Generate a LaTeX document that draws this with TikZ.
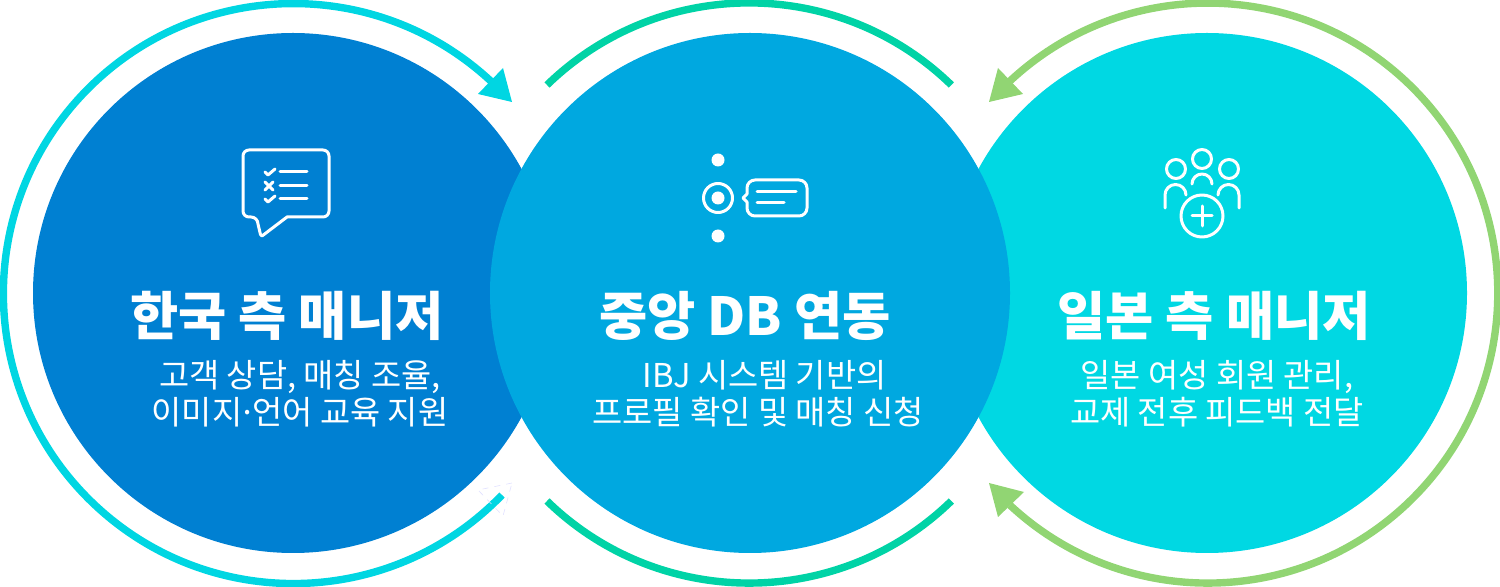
\documentclass[tikz,border=0pt]{standalone}
\usepackage{fontspec}
\setmainfont{Noto Sans CJK KR}
\usetikzlibrary{positioning}
\definecolor{discA}{HTML}{0080D2}
\definecolor{discB}{HTML}{00A8E0}
\definecolor{discC}{HTML}{00D8E3}
\definecolor{ringA}{HTML}{00D6E2}
\definecolor{ringB}{HTML}{00D3A6}
\definecolor{ringC}{HTML}{91D573}
\tikzset{
  bigdisc/.style={circle, minimum size=260pt, inner sep=0pt},
  ringline/.style={line width=3.7pt},
  icon/.style={draw=white, line width=1.5pt, line cap=round, line join=round},
  headtext/.style={text=white, font=\fontsize{26.2}{30}\selectfont\bfseries, inner sep=0pt},
  bodytext/.style={text=white, font=\fontsize{16.4}{18.5}\selectfont, align=center, inner sep=0pt},
}
\begin{document}
\begin{tikzpicture}[x=0.5pt, y=-0.5pt]
	\useasboundingbox (0,0) rectangle (1500,587);
	\node[bigdisc, fill=discA] (c1) at (293,293) {};
	\node[bigdisc, fill=discC] (c3) at (1207,293) {};
	\node[bigdisc, fill=discB] (c2) at (750,293) {};
	% outer rings
	\coordinate (a1) at (502,495);
	\coordinate (a2) at (547,85);
	\coordinate (a3) at (547,501);
	\coordinate (a4) at (1010,81);
	\draw[ringline, ringA] (a1) arc[start angle=44, end angle=313, radius=290];
	\draw[ringline, ringB] (a2) arc[start angle=225.8, end angle=314.2, radius=290];
	\draw[ringline, ringB] (a3) arc[start angle=134.2, end angle=45.8, radius=290];
	\draw[ringline, ringC] (a4) arc[start angle=227, end angle=493, radius=290];
	% arrow heads
	\fill[ringA] (512,102) -- (503,68) -- (478,94) -- cycle;
	\fill[ringC] (989,102) -- (998,68) -- (1023,94) -- cycle;
	\fill[ringC] (989,483) -- (1024,492) -- (998,517) -- cycle;
	\draw[draw=blue!12, line width=0.3pt, dashed] (512,483) -- (478,490) -- (503,516) -- cycle;
	% left icon
	\draw[icon] (249,150) -- (323,150) arc[start angle=-90, end angle=0, radius=6] -- (329,211)
		arc[start angle=0, end angle=90, radius=6] -- (287,217) -- (262,236)
		arc[start angle=120, end angle=180, radius=4] -- (258,224)
		arc[start angle=0, end angle=-90, radius=7] -- (249,217)
		arc[start angle=90, end angle=180, radius=6] -- (243,156)
		arc[start angle=180, end angle=270, radius=6] -- cycle;
	\foreach \ly in {172,186,199}
		\draw[icon] (280,\ly) -- (307,\ly);
	\draw[icon] (265,172) -- (268,175) -- (275,169);
	\draw[icon] (265,182) -- (273,190) (273,182) -- (265,190);
	\draw[icon] (265,199) -- (268,202) -- (275,196);
	% middle icon
	\foreach \ly in {160,198,236}
		\fill[white] (718,\ly) circle[radius=6.5];
	\draw[icon] (718,198) circle[radius=14.5];
	\draw[icon] (755,180) -- (799,180) arc[start angle=-90, end angle=0, radius=8] -- (807,208)
		arc[start angle=0, end angle=90, radius=8] -- (755,216)
		arc[start angle=90, end angle=180, radius=8] -- (747,202) -- (743,198) -- (747,194) -- (747,188)
		arc[start angle=180, end angle=270, radius=8] -- cycle;
	\draw[icon] (757,192) -- (796,192) (757,203) -- (784,203);
	% right icon
	\draw[icon] (1202,159) circle[radius=9.5] (1176,169) circle[radius=9.5] (1229,169) circle[radius=9.5];
	\draw[icon] (1192,184) arc[start angle=180, end angle=360, radius=10];
	\draw[icon] (1165,208) -- (1165,195) arc[start angle=180, end angle=360, radius=10.5];
	\draw[icon] (1239,208) -- (1239,195) arc[start angle=0, end angle=-180, radius=10.5];
	\draw[icon] (1202,216) circle[radius=21];
	\draw[icon] (1192,216) -- (1212,216) (1202,206) -- (1202,226);
	% labels
	\node[headtext] (t1) at (287,316) {한국 측 매니저};
	\node[headtext] (t2) at (745,316) {중앙 DB 연동};
	\node[headtext] (t3) at (1214,316) {일본 측 매니저};
	\node[bodytext] (b1) at (300,394) {고객 상담, 매칭 조율,\\이미지\kern-2pt·\kern-2pt언어 교육 지원};
	\node[bodytext] (b2) at (758,394) {\hspace*{6.5pt}IBJ 시스템 기반의\\프로필 확인 및 매칭 신청};
	\node[bodytext] (b3) at (1217,394) {일본 여성 회원 관리,\\교제 전후 피드백 전달};
\end{tikzpicture}
\end{document}
